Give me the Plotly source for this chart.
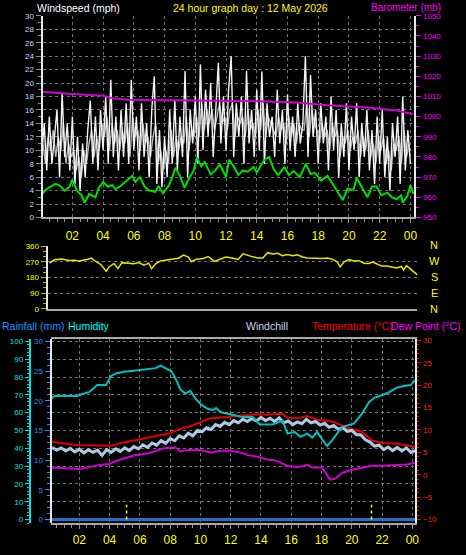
import plotly.graph_objects as go

W, H = 466, 555
FONT = "Liberation Sans, Arial, sans-serif"

# ---------------- data ----------------
hour_ticks = [2, 4, 6, 8, 10, 12, 14, 16, 18, 20, 22, 24]
hour_labels = ["02", "04", "06", "08", "10", "12", "14", "16", "18", "20", "22", "00"]

# wind gust (mph), 10-minute samples from 00:00
gust = [9, 14, 7, 15, 8, 12,
        16, 6, 18.6, 9, 14, 7,
        15, 5, 12, 4, 11, 6,
        13, 17.4, 8, 15, 7, 16,
        10, 18, 8, 20.5, 9, 15,
        7, 16, 9, 17, 8, 20.5,
        10, 15, 7, 17, 9, 14,
        6, 16, 21, 5, 13, 4.5,
        12, 6, 16, 8, 17.5, 7,
        15, 9, 21.8, 6, 16, 11,
        18, 8, 22.8, 10, 19, 12,
        20, 9, 17, 23, 11, 18,
        10, 19, 24, 9, 17, 12,
        18, 8, 21.8, 11, 16, 9,
        19, 10, 21.7, 8, 17, 12,
        15, 9, 19, 11, 16, 8,
        18.3, 10, 15, 9, 17, 11,
        14, 24, 9, 21.2, 12, 16,
        8, 17, 11, 15, 7, 18,
        10, 16, 6, 14, 9, 17,
        7, 15, 10, 17, 6, 14,
        9, 16, 7, 13, 5, 15,
        8, 16, 6, 12, 4, 14,
        9, 15, 5, 18, 7, 13,
        8]
gust_hours = [i / 6 for i in range(len(gust))]

# wind speed (mph), 10-minute samples offset by 5 minutes
wind_mid = [11, 8, 12, 10, 13, 9,
            12, 10, 14, 8, 11, 9,
            10, 7, 9, 6, 10, 8,
            11, 13, 9, 12, 10, 14,
            12, 15, 10, 14, 11, 13,
            10, 13, 11, 14, 9, 15,
            12, 13, 10, 14, 11, 12,
            9, 12, 14, 8, 10, 7,
            10, 8, 13, 9, 12, 10,
            12, 11, 15, 10, 13, 12,
            15, 12, 17, 13, 16, 14,
            16, 13, 15, 17, 14, 15,
            13, 16, 17, 12, 15, 14,
            15, 12, 16, 13, 14, 12,
            16, 13, 17, 12, 15, 14,
            13, 12, 15, 13, 14, 11,
            15, 12, 14, 11, 14, 13,
            13, 17, 12, 16, 14, 13,
            11, 14, 12, 13, 10, 14,
            12, 13, 9, 12, 11, 13,
            10, 12, 11, 13, 9, 12,
            10, 13, 9, 11, 8, 12,
            10, 12, 8, 10, 7, 11,
            10, 12, 8, 13, 9, 11]
wind_mid_hours = [i / 6 + 1 / 12 for i in range(len(wind_mid))]

# average wind speed (mph)
avg_hours = [0, 0.3, 0.6, 0.9, 1.2, 1.5, 1.8, 2.0, 2.3, 2.6, 2.8, 3.1, 3.5, 3.7, 4.0, 4.3, 4.6, 4.8,
             5.2, 5.5, 5.9, 6.1, 6.4, 6.7, 7.0, 7.4, 7.6, 7.9, 8.3, 8.5, 8.7, 9.0, 9.3, 9.5, 9.9,
             10.1, 10.4, 10.6, 11.0, 11.3, 11.6, 12.0, 12.2, 12.5, 12.8, 13.1, 13.4, 13.8, 14.0,
             14.5, 14.8, 15.1, 15.4, 15.8, 16.1, 16.4, 16.8, 17.2, 17.5, 17.8, 18.2, 18.6, 18.9,
             19.2, 19.6, 19.9, 20.3, 20.5, 20.9, 21.2, 21.5, 21.8, 22.1, 22.5, 22.8, 23.1, 23.4,
             23.5, 23.8, 24.0, 24.2]
avg_speed = [3.4, 4.2, 4.6, 5.0, 4.7, 4.0, 4.5, 5.6, 4.0, 3.3, 2.2, 3.5, 3.0, 4.3, 5.3, 4.6, 4.8, 4.2,
             4.8, 5.4, 6.2, 5.3, 6.0, 4.6, 4.0, 3.8, 4.7, 3.6, 4.8, 6.0, 7.4, 6.2, 4.4, 5.4, 7.0,
             8.9, 7.6, 8.3, 6.4, 7.0, 7.9, 6.0, 8.6, 7.6, 6.3, 7.0, 6.8, 7.5, 6.7,
             8.6, 9.0, 7.2, 6.3, 7.5, 6.3, 6.9, 6.0, 8.0, 6.5, 6.6, 5.5, 6.2, 5.1,
             4.0, 2.6, 4.3, 4.1, 5.9, 4.3, 3.0, 4.6, 4.6, 3.3, 3.7, 3.0, 2.7, 3.3,
             2.2, 3.2, 4.8, 3.5]

# barometer (mb)
baro_hours = [0, 1.2, 2.5, 3.5, 4.0, 4.5, 5.5, 7, 9, 10, 12.1, 14.2, 16.6, 18.6, 21.2, 23.1, 24.0, 24.2]
baro = [1012.4, 1011.6, 1011.0, 1010.6, 1010.5, 1009.3, 1008.4, 1008.3, 1008.2, 1008.1, 1008.0,
        1007.6, 1007.0, 1005.7, 1004.5, 1003.0, 1001.6, 1001.3]

# wind direction (degrees)
dir_hours = [0.13, 0.45, 0.9, 1.42, 1.74, 2.06, 2.58, 2.84, 3.16, 3.48, 3.81, 4.0, 4.32, 4.58, 4.84,
             5.29, 5.61, 5.94, 6.26, 6.58, 6.77, 7.03, 7.35, 7.74, 8.19, 8.52, 8.84, 9.16, 9.35,
             9.68, 10.13, 10.45, 10.84, 11.23, 11.61, 12.06, 12.39, 12.71, 13.03, 13.35, 13.68,
             14.0, 14.32, 14.65, 14.97, 15.29, 15.61, 15.94, 16.26, 16.58, 16.9, 17.23, 17.55,
             17.87, 18.19, 18.52, 18.84, 19.03, 19.29, 19.61, 19.94, 20.26, 20.58, 20.9, 21.16,
             21.42, 21.74, 22.06, 22.39, 22.71, 23.03, 23.16, 23.35, 23.55, 23.81, 24.06]
direction = [262, 281, 285, 277, 278, 275, 283, 291, 270, 253, 216, 240, 260, 231, 265,
             262, 258, 265, 250, 262, 230, 258, 275, 280, 285, 290, 308, 297, 270,
             285, 288, 300, 272, 285, 297, 290, 283, 315, 305, 298, 292,
             292, 322, 315, 318, 305, 312, 305, 310, 297, 291, 290, 293,
             288, 292, 285, 270, 240, 270, 282, 275, 276, 262, 260, 268,
             257, 245, 245, 240, 235, 243, 222, 248, 232, 215, 195]

# humidity (%)
hum_hours = [0.16, 0.36, 1.87, 2.19, 2.65, 3.18, 3.77, 4.09, 4.42, 4.94, 5.6, 5.99, 6.58, 7.04, 7.37,
             7.69, 8.09, 8.42, 8.68, 9.0, 9.33, 9.66, 10.05, 10.51, 10.84, 11.03, 11.36, 12.02,
             12.8, 13.46, 13.92, 14.77, 15.42, 15.75, 16.21, 16.6, 17.06, 17.39, 17.71, 18.04,
             18.37, 18.7, 19.03, 19.36, 20.14, 20.66, 21.12, 21.51, 21.97, 22.43, 22.96, 23.42,
             23.88, 24.08, 24.2]
humidity = [68, 69.4, 69.4, 70.5, 71.5, 75.5, 75.5, 80.5, 82, 83, 83.5, 84, 84.5, 85, 86.4,
            85, 83.2, 78, 73, 70.7, 72.2, 68, 64.5, 62, 61.5, 62.6, 60.2, 59,
            57.5, 57.5, 53.4, 53.4, 55.6, 48.2, 49.2, 46.4, 48.2, 46, 49.2, 45,
            41.2, 44.6, 48.2, 52, 53.8, 59.3, 65.7, 68.5, 69.8, 71.3, 74, 75,
            75.5, 77.7, 78.5]

# temperature (°C)
temp_hours = [0.16, 0.69, 2.0, 3.31, 4.16, 4.62, 5.27, 6.58, 7.89, 8.74, 9.2, 9.86, 10.51, 11.49,
              12.48, 13.78, 14.44, 15.42, 15.75, 16.4, 17.06, 17.71, 18.7, 19.36, 19.69, 20.66,
              21.32, 21.97, 22.96, 23.61, 24.2]
temperature = [7.4, 7.1, 6.6, 6.5, 6.5, 7.0, 7.4, 8.3, 9.2, 10.3, 10.7, 11.5, 12.5, 12.9,
               13.2, 13.5, 13.4, 13.6, 12.7, 12.6, 13.1, 12.3, 11.9, 11.0, 10.5, 9.6,
               7.7, 7.1, 6.9, 6.6, 6.2]

# windchill (°C), samples every 18 minutes from 00:12
windchill = [6.1, 5.5, 6.0, 5.3, 5.9, 5.1, 5.7, 4.9, 5.6, 5.0, 5.5, 4.3, 5.6, 5.0, 5.8, 5.2,
             6.0, 5.4, 6.3, 5.8, 6.7, 6.1, 7.1, 6.6, 7.6, 7.0, 8.1, 7.6, 8.7, 8.2, 9.3, 8.7,
             9.9, 9.6, 10.5, 10.1, 11.2, 10.8, 11.7, 11.2, 12.1, 11.6, 12.4, 11.9, 12.6, 12.0,
             12.8, 12.1, 12.6, 11.9, 12.7, 11.6, 12.0, 11.2, 11.8, 11.4, 12.4, 11.6, 11.9, 11.1,
             11.5, 10.6, 11.0, 10.2, 10.5, 9.7, 9.9, 9.0, 8.9, 7.8, 7.3, 6.4, 6.6, 5.6, 6.2,
             5.4, 6.1, 5.3, 6.0, 5.0, 5.4]
wc_hours = [round(0.2 + 0.3 * i, 2) for i in range(len(windchill))]

# dew point (°C)
dew_hours = [0.16, 1.34, 2.0, 2.65, 3.31, 3.96, 4.62, 5.6, 6.58, 7.56, 8.09, 8.35, 8.68, 9.2, 9.86,
             10.51, 10.77, 11.17, 11.82, 12.48, 13.13, 13.65, 14.11, 14.57, 14.83, 15.1, 15.75,
             16.4, 17.06, 17.39, 18.04, 18.37, 18.57, 18.89, 19.36, 20.01, 20.66, 21.32, 21.97,
             22.63, 23.61, 24.2]
dew_point = [1.6, 1.3, 1.3, 1.7, 2.2, 2.4, 3.3, 4.3, 4.8, 5.9, 6.1, 6.1, 5.2, 5.5, 5.6,
             5.2, 4.9, 5.3, 5.4, 5.1, 4.4, 4.1, 3.7, 3.3, 3.3, 3.0, 2.0,
             1.7, 2.2, 1.6, 1.6, -0.2, -1.1, -0.9, 0.4, 1.1, 1.6, 2.0, 2.0,
             2.1, 2.3, 2.7]

# rainfall (mm)
rain_hours = [0, 24.2]
rainfall = [0, 0]

# sunrise / sunset markers (hours) and marker height on the rain scale
sun_events = [5.12, 21.3]
sun_marker_top = 2.5

# ---------------- figure ----------------
fig = go.Figure()

fig.add_trace(go.Scatter(x=wind_mid_hours, y=wind_mid, mode="lines",
                         line=dict(color="#b4b4b4", width=1.4), xaxis="x", yaxis="y"))
fig.add_trace(go.Scatter(x=gust_hours, y=gust, mode="lines",
                         line=dict(color="#f4f4f4", width=1.4), xaxis="x", yaxis="y"))
fig.add_trace(go.Scatter(x=avg_hours, y=avg_speed, mode="lines",
                         line=dict(color="#00e000", width=2), xaxis="x", yaxis="y"))
fig.add_trace(go.Scatter(x=baro_hours, y=baro, mode="lines",
                         line=dict(color="#d000d0", width=2), xaxis="x", yaxis="y2"))

fig.add_trace(go.Scatter(x=dir_hours, y=direction, mode="lines",
                         line=dict(color="#e8e800", width=1.5), xaxis="x2", yaxis="y3"))

fig.add_trace(go.Scatter(x=temp_hours, y=temperature, mode="lines",
                         line=dict(color="#e00000", width=2), xaxis="x3", yaxis="y4"))
fig.add_trace(go.Scatter(x=wc_hours, y=windchill, mode="lines",
                         line=dict(color="#b0c8e8", width=3), xaxis="x3", yaxis="y4"))
fig.add_trace(go.Scatter(x=dew_hours, y=dew_point, mode="lines",
                         line=dict(color="#d000d0", width=2), xaxis="x3", yaxis="y4"))
fig.add_trace(go.Scatter(x=hum_hours, y=humidity, mode="lines",
                         line=dict(color="#00c0c0", width=2), xaxis="x3", yaxis="y5"))
fig.add_trace(go.Scatter(x=rain_hours, y=rainfall, mode="lines",
                         line=dict(color="#2070d0", width=3), xaxis="x3", yaxis="y6"))
sx, sy = [], []
for h in sun_events:
    sx += [h, h, None]
    sy += [0, sun_marker_top, None]
fig.add_trace(go.Scatter(x=sx, y=sy, mode="lines",
                         line=dict(color="#ffff00", width=1.5, dash="dot"), xaxis="x3", yaxis="y6"))

grid = dict(showgrid=True, gridcolor="#747474", griddash="dot", gridwidth=1)
small = dict(family=FONT, size=8)


def py(px):
    return 1 - px / H


fig.update_layout(
    width=W, height=H, margin=dict(l=0, r=0, t=0, b=0),
    paper_bgcolor="black", plot_bgcolor="black", showlegend=False,
    font=dict(family=FONT, color="white"),
    xaxis=dict(domain=[43 / W, 418 / W], range=[0.065, 24.26], anchor="y",
               tickvals=hour_ticks, ticktext=hour_labels,
               tickfont=dict(family=FONT, size=12, color="#ffff00"),
               ticks="outside", ticklen=4, tickcolor="#909090", ticklabelstandoff=2,
               minor=dict(dtick=0.5, ticks="outside", ticklen=3, tickcolor="#909090"),
               showline=True, linecolor="#a8a8a8", linewidth=2, zeroline=False, **grid),
    yaxis=dict(domain=[py(217), py(12)], range=[0, 30], anchor="x", dtick=2,
               tickfont=dict(small, color="#c8dcff"), ticks="outside", ticklen=5,
               tickcolor="#8090a0", minor=dict(dtick=1, ticks="outside", ticklen=3, tickcolor="#8090a0"),
               showline=True, linecolor="#e8e8e8", linewidth=2, zeroline=False, **grid),
    yaxis2=dict(overlaying="y", side="right", anchor="x", range=[950, 1050], dtick=10,
                tickfont=dict(small, color="#ff00ff"), ticks="outside", ticklen=5,
                tickcolor="#ff00ff", minor=dict(dtick=5, ticks="outside", ticklen=3, tickcolor="#ff00ff"),
                showline=True, linecolor="#e8e8e8", linewidth=2, showgrid=False, zeroline=False),
    xaxis2=dict(domain=[48 / W, 421 / W], range=[0, 24.06], anchor="y3",
                showticklabels=False, ticks="", showgrid=False, zeroline=False,
                showline=True, linecolor="#a8a8a8", linewidth=2),
    yaxis3=dict(domain=[py(310), py(246)], range=[0, 360], anchor="x2",
                tickvals=[0, 90, 180, 270, 360], tickfont=dict(small, color="#ffff00"),
                ticks="outside", ticklen=5, tickcolor="#b0b000",
                minor=dict(dtick=30, ticks="outside", ticklen=3, tickcolor="#b0b000"),
                showline=True, linecolor="#e8e8e8", linewidth=2, zeroline=False, **grid),
    xaxis3=dict(domain=[51 / W, 419 / W], range=[0.1, 24.2], anchor="y4",
                tickvals=hour_ticks, ticktext=hour_labels,
                tickfont=dict(family=FONT, size=12, color="#ffff00"),
                ticks="outside", ticklen=4, tickcolor="#909090", ticklabelstandoff=0,
                minor=dict(dtick=0.5, ticks="outside", ticklen=3, tickcolor="#909090"),
                showline=True, linecolor="#a8a8a8", linewidth=2, mirror=True, zeroline=False, **grid),
    yaxis4=dict(domain=[py(528), py(341)], range=[-10.88, 30.22], anchor="x3", side="right",
                tick0=0, dtick=5, tickfont=dict(small, color="#ff2020"), ticks="outside", ticklen=4,
                tickcolor="#ff0000", minor=dict(dtick=1, ticks="outside", ticklen=2, tickcolor="#ff0000"),
                showline=True, linecolor="#e8e8e8", linewidth=2, showgrid=False, zeroline=False),
    yaxis5=dict(overlaying="y4", anchor="free", position=30 / W, side="left",
                range=[-2.21, 101.1], dtick=10, tickfont=dict(small, color="#00e0e0"),
                ticks="outside", ticklen=4, tickcolor="#00e0e0",
                minor=dict(dtick=2, ticks="outside", ticklen=2, tickcolor="#00e0e0"),
                showline=True, linecolor="#00e0e0", linewidth=2, zeroline=False, **grid),
    yaxis6=dict(overlaying="y4", anchor="free", position=51 / W, side="left",
                range=[-0.66, 30.33], dtick=5, tickfont=dict(small, color="#2090ff"),
                ticks="outside", ticklen=5, tickcolor="#2090ff",
                minor=dict(dtick=1, ticks="outside", ticklen=3, tickcolor="#2090ff"),
                showline=True, linecolor="#e8e8e8", linewidth=2, showgrid=False, zeroline=False),
)

ann = []


def label(text, xpx, ypx, color, size=10.5, xanchor="left"):
    ann.append(dict(text=text, x=xpx / W, y=py(ypx), xref="paper", yref="paper",
                    xanchor=xanchor, yanchor="middle", showarrow=False,
                    font=dict(family=FONT, size=size, color=color)))


label("Windspeed (mph)", 35, 4.5, "#ffffff")
label("24 hour graph day : 12 May 2026", 172, 4.5, "#ffff00")
label("Barometer (mb)", 372, 3.5, "#ff00ff", size=10)
label("Rainfall (mm)", 0, 327, "#1e90ff")
label("Humidity", 67, 327, "#00ffff")
label("Windchill", 246, 327, "#c8d8f0")
label("Temperature (°C)", 313, 327, "#ff0000")
label("Dew Point (°C)", 392, 327, "#ff00ff")
for letter, ypx in zip(["N", "W", "S", "E", "N"], [245, 261, 278, 294, 310]):
    label(letter, 438, ypx, "#ffff00", size=11, xanchor="center")

fig.update_layout(annotations=ann)
fig.write_html("out.html", config={"displayModeBar": False},
               post_script="document.body.style.margin='0';")
